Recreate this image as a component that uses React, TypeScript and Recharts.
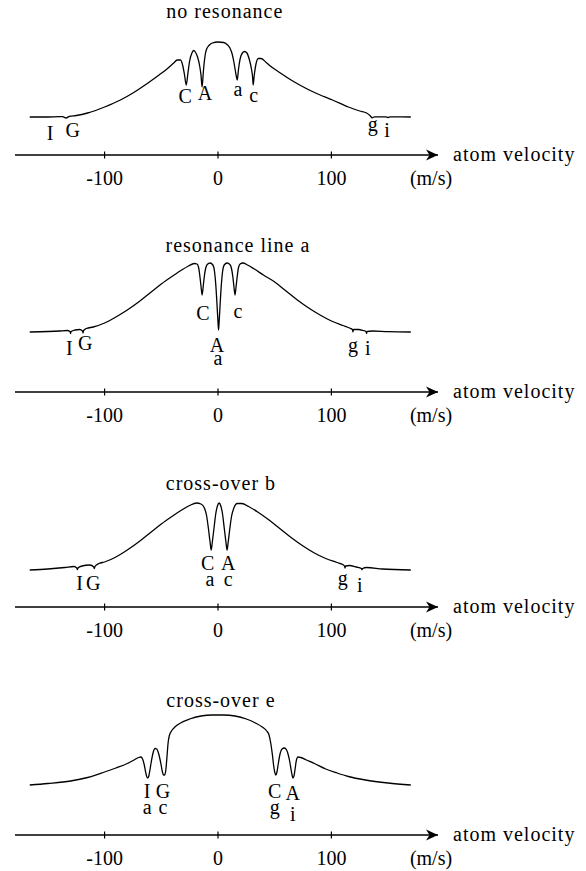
import React from 'react';
import { LineChart, Line, XAxis, YAxis, ReferenceDot } from 'recharts';

const FONT = '"Liberation Serif", "DejaVu Serif", "Times New Roman", serif';

// velocity ticks (m/s) and panel titles
const velocityTicks = [-100, 0, 100];
const titles = ['no resonance', 'resonance line a', 'cross-over b', 'cross-over e'];

// panel 1 — no resonance: velocity (m/s) and absorption signal above the Doppler baseline
const vel1 = [
  -166, -150, -140, -137, -134, -131, -125, -115, -100, -86, -75, -63, -52, -45, -39, -36,
  -33, -31, -29.5, -28, -26.5, -25, -23, -21.5, -20, -18, -16, -15, -14, -13, -12, -11,
  -10, -8, -5, 0, 5, 8, 10.5, 12.5, 14, 15.5, 17, 18, 19.5, 21.5, 23.5, 25.5,
  27.5, 29.5, 30.5, 31, 32, 33.5, 35.5, 38, 42, 45, 55, 63, 72, 86,
  101, 115, 125, 131, 134, 136, 138, 148, 150, 152, 170,
];
const sig1 = [
  0, 0, 0.3, 0.3, -1, 0.6, 1.5, 4, 10, 17, 24, 33, 42, 48, 54, 57,
  57, 51, 42, 32, 44, 56, 64, 66.5, 65, 60, 50, 42, 30, 44, 56, 64,
  68, 71.5, 74, 75, 74.5, 72.5, 69, 63, 55, 45, 37, 47, 58, 64, 65.5, 64,
  58, 48, 40, 32, 42, 53, 58.5, 58.5, 55, 52, 44, 38, 32, 24,
  17, 10, 6, 4, 1.5, -0.8, 0.2, 0.1, -0.5, 0.1, 0,
];

// panel 2 — resonance line a
const vel2 = [
  -166, -150, -140, -133, -130.5, -130, -129.5, -126, -122, -119.5, -119, -118.5, -116, -110, -100, -90,
  -80, -70, -60, -50, -40, -32, -26, -21, -18.5, -17, -16, -15, -14, -13, -12, -11,
  -9.5, -7, -4.5, -3, -2, -1, 0, 0.5, 1, 2, 3, 4, 5.5, 8, 10.5, 12,
  13, 14, 15, 16, 17, 18, 19.5, 22, 26, 32, 40, 50, 60, 70, 80, 90,
  100, 110, 116, 118.5, 119, 119.5, 124, 128, 130.5, 131, 131.5, 136, 150, 170,
];
const sig2 = [
  0, 0.5, 1, 1.5, 0.5, -1.5, 0.5, 2, 2.5, 1, -1, 1.5, 3.5, 5, 9, 15,
  22, 30, 39, 48, 56, 62, 66, 68.5, 68, 64, 56, 46, 37, 46, 56, 63,
  67.5, 69, 67, 60, 48, 30, 10, 2, 10, 30, 48, 60, 67, 69, 67.5, 63,
  56, 46, 37, 46, 56, 64, 68, 69, 67, 63, 57, 50, 41, 32, 24, 17,
  11, 6.5, 4, 2.5, 0, 2.5, 2.5, 1.5, 0.5, -1.5, 0.5, 1, 0.3, 0,
];

// panel 3 — cross-over b
const vel3 = [
  -166, -150, -135, -127, -124.5, -124, -123.5, -120, -113, -109.5, -109, -108.5, -105, -100, -90, -80,
  -70, -60, -50, -40, -32, -25, -19, -15, -12, -10, -8.5, -7, -6, -5, -3.5, -2,
  -0.5, 1, 2.5, 4, 5.5, 7, 8, 9, 10.5, 12, 14, 17, 21, 27, 35, 45,
  55, 65, 75, 85, 95, 105, 110, 111.5, 112, 112.5, 116, 122, 126.5, 127, 127.5, 131,
  145, 170,
];
const sig3 = [
  0, 1, 2.5, 3.5, 2, 0.5, 2, 4, 5, 3, 1.5, 3.5, 6.5, 8, 13, 20,
  28, 37, 46, 54, 60, 64.5, 67, 66, 62, 54, 42, 28, 20, 28, 42, 56,
  64, 67, 64, 56, 42, 28, 20, 28, 42, 54, 62, 66.5, 66.5, 63.5, 58, 50,
  41, 32, 24, 17, 11.5, 7.5, 5.5, 4, 2, 4, 4.5, 3, 1.5, 0.2, 1.5, 2.5,
  1, 0,
];

// panel 4 — cross-over e
const vel4 = [
  -166, -150, -130, -115, -100, -90, -80, -74, -70, -68, -66.5, -65, -64, -63, -62, -61,
  -60, -59, -57.5, -55.5, -54, -52.5, -51, -50, -49, -48, -47, -46, -45, -44, -43, -41,
  -38, -33, -25, -15, -5, 5, 15, 25, 33, 39, 43, 45, 46.5, 48, 49, 50,
  51, 52, 53, 54.5, 56.5, 58.5, 60.5, 62, 63.5, 64.5, 65.5, 66, 67, 68, 69, 70.5,
  73, 78, 85, 95, 105, 115, 130, 150, 170,
];
const sig4 = [
  0, 1.5, 4, 7.5, 13, 17, 21.5, 25, 27.5, 28, 26, 20, 14, 9, 7, 9,
  15, 22, 31, 36.5, 36, 32, 25, 19, 13, 10, 10, 15, 28, 42, 49, 54,
  58, 62, 66, 69, 70, 70, 69, 66, 62, 58, 54, 50, 42, 30, 20, 13,
  10, 13, 20, 30, 36, 37, 35, 30, 22, 15, 9, 7, 9, 16, 24, 28,
  27.5, 25, 21.5, 16, 12, 8.5, 5, 2, 0,
];

// hyperfine line letters under each dip (velocity, signal level of the text baseline)
const marks1 = [
  { t: 'C', v: -29, s: 14 }, { t: 'A', v: -11.5, s: 17 }, { t: 'a', v: 17.5, s: 21 }, { t: 'c', v: 31.5, s: 15 },
  { t: 'I', v: -148, s: -23 }, { t: 'G', v: -128, s: -20 }, { t: 'g', v: 136.5, s: -14 }, { t: 'i', v: 149, s: -20 },
];
const marks2 = [
  { t: 'C', v: -13.2, s: 12 }, { t: 'c', v: 17.6, s: 14 }, { t: 'A', v: -1, s: -20 }, { t: 'a', v: 0, s: -33 },
  { t: 'I', v: -131, s: -23 }, { t: 'G', v: -117, s: -18 }, { t: 'g', v: 119, s: -20 }, { t: 'i', v: 132, s: -23 },
];
const marks3 = [
  { t: 'C', v: -9, s: 0 }, { t: 'A', v: 9, s: 0 }, { t: 'a', v: -7, s: -16 }, { t: 'c', v: 9, s: -16 },
  { t: 'I', v: -122, s: -20 }, { t: 'G', v: -110, s: -20 }, { t: 'g', v: 110, s: -15 }, { t: 'i', v: 125, s: -22 },
];
const marks4 = [
  { t: 'I', v: -62.5, s: -13 }, { t: 'G', v: -48.5, s: -13 }, { t: 'a', v: -62.5, s: -29 }, { t: 'c', v: -48.5, s: -29 },
  { t: 'C', v: 50, s: -13 }, { t: 'A', v: 66, s: -15 }, { t: 'g', v: 50, s: -29 }, { t: 'i', v: 66, s: -36 },
];

const X_MIN = -179;
const X_MAX = 194;

// page placement of each panel; lo/hi are the signal domain of the plot box
const panels = [
  { vel: vel1, sig: sig1, marks: marks1, title: titles[0], tv: 6, ts: 99, top: -15, height: 210, lo: -38, hi: 132 },
  { vel: vel2, sig: sig2, marks: marks2, title: titles[1], tv: 17.6, ts: 80, top: 222, height: 210, lo: -60, hi: 110 },
  { vel: vel3, sig: sig3, marks: marks3, title: titles[2], tv: 2.6, ts: 80, top: 437, height: 210, lo: -37, hi: 133 },
  { vel: vel4, sig: sig4, marks: marks4, title: titles[3], tv: 2.6, ts: 78, top: 665, height: 206, lo: -50, hi: 120 },
];

const PLOT_H = 170;

function AxisTick(props: any) {
  const { x, y, payload } = props;
  return (
    <g>
      <line x1={x} x2={x} y1={y - 3.5} y2={y + 3.5} stroke="#000" strokeWidth={1.2} />
      <text x={x} y={y + 30} textAnchor="middle" style={{ fontFamily: FONT }} fontSize={20} fill="#000">
        {payload.value}
      </text>
    </g>
  );
}

function ArrowEnd(props: any) {
  const { cx, cy } = props;
  return (
    <g>
      <polygon
        points={`${cx},${cy} ${cx - 12},${cy - 5.5} ${cx - 8.5},${cy} ${cx - 12},${cy + 5.5}`}
        fill="#000"
      />
      <text x={cx + 15} y={cy + 6} style={{ fontFamily: FONT }} fontSize={20} letterSpacing={1} fill="#000">
        atom velocity
      </text>
      <text x={cx - 7} y={cy + 30} textAnchor="middle" style={{ fontFamily: FONT }} fontSize={20} fill="#000">
        (m/s)
      </text>
    </g>
  );
}

function Panel({ p }: { p: (typeof panels)[number] }) {
  const data = p.vel.map((v, i) => ({ v, s: p.sig[i] }));
  return (
    <div style={{ position: 'absolute', left: 0, top: p.top }}>
      <LineChart
        width={586}
        height={p.height}
        data={data}
        margin={{ top: 0, right: 148, left: 15, bottom: 0 }}
      >
        <XAxis
          type="number"
          dataKey="v"
          domain={[X_MIN, X_MAX]}
          allowDataOverflow
          ticks={velocityTicks}
          tickLine={false}
          tickSize={0}
          tickMargin={0}
          tick={AxisTick}
          height={p.height - PLOT_H}
          axisLine={{ stroke: '#000', strokeWidth: 1.4 }}
        />
        <YAxis hide type="number" domain={[p.lo, p.hi]} allowDataOverflow />
        <Line
          type="monotone"
          dataKey="s"
          stroke="#000"
          strokeWidth={1.3}
          dot={false}
          activeDot={false}
          isAnimationActive={false}
        />
        <ReferenceDot x={X_MAX} y={p.lo} r={0} ifOverflow="visible" shape={ArrowEnd} />
        <ReferenceDot
          x={p.tv}
          y={p.ts}
          r={0}
          ifOverflow="visible"
          shape={(d: any) => (
            <text
              x={d.cx}
              y={d.cy}
              textAnchor="middle"
              style={{ fontFamily: FONT }}
              fontSize={20}
              letterSpacing={1}
              fill="#000"
            >
              {p.title}
            </text>
          )}
        />
        {p.marks.map((m, i) => (
          <ReferenceDot
            key={i}
            x={m.v}
            y={m.s}
            r={0}
            ifOverflow="visible"
            shape={(d: any) => (
              <text x={d.cx} y={d.cy} textAnchor="middle" style={{ fontFamily: FONT }} fontSize={20} fill="#000">
                {m.t}
              </text>
            )}
          />
        ))}
      </LineChart>
    </div>
  );
}

export default function App() {
  return (
    <div
      style={{
        position: 'absolute',
        left: 0,
        top: 0,
        width: 586,
        height: 871,
        overflow: 'hidden',
        background: '#fff',
      }}
    >
      {panels.map((p, i) => (
        <Panel key={i} p={p} />
      ))}
    </div>
  );
}
